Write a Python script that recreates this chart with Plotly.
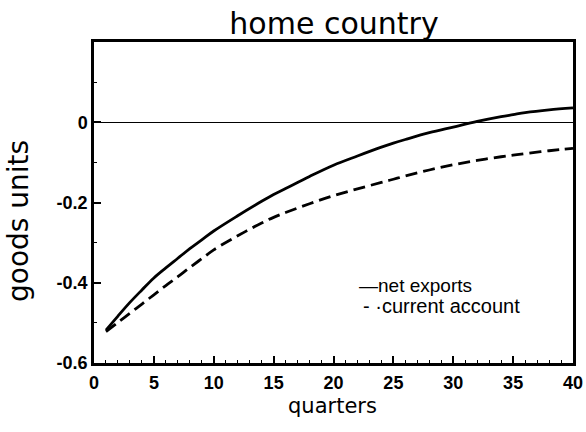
import plotly.graph_objects as go

# Data
quarters = [1, 2, 3, 4, 5, 6, 7, 8, 9, 10, 12, 14, 15, 16, 18, 20, 22, 24, 25, 26, 28, 30, 32, 34, 35, 36, 38, 40]
net_exports = [-0.518, -0.483, -0.449, -0.418, -0.388, -0.363, -0.339, -0.315, -0.293, -0.271,
               -0.233, -0.197, -0.180, -0.165, -0.135, -0.107, -0.084, -0.062, -0.052, -0.043,
               -0.026, -0.012, 0.002, 0.014, 0.019, 0.024, 0.031, 0.036]
current_account = [-0.522, -0.499, -0.476, -0.453, -0.430, -0.407, -0.385, -0.362, -0.340, -0.318,
                   -0.283, -0.251, -0.237, -0.225, -0.203, -0.183, -0.166, -0.150, -0.142, -0.134,
                   -0.119, -0.106, -0.095, -0.086, -0.082, -0.078, -0.071, -0.065]
x_ticks = [0, 5, 10, 15, 20, 25, 30, 35, 40]
y_ticks = [-0.6, -0.4, -0.2, 0]
y_tick_labels = ["-0.6", "-0.4", "-0.2", "0"]

TF = "Liberation Sans, Arial, sans-serif"

L, R, T, B = 94, 13, 42, 69
PW, PH = 586 - L - R, 432 - T - B


def px(xp):
    return (xp - L) / PW


def py(yp):
    return (432 - B - yp) / PH


fig = go.Figure()
fig.add_trace(go.Scatter(x=quarters, y=net_exports, mode="lines", name="net exports",
                         line=dict(color="black", width=2.8, shape="spline")))
fig.add_trace(go.Scatter(x=quarters, y=current_account, mode="lines", name="current account",
                         line=dict(color="black", width=2.8, dash="12px,6px", shape="spline")))

fig.update_layout(
    width=586, height=432,
    margin=dict(l=L, r=R, t=T, b=B, autoexpand=False),
    paper_bgcolor="white", plot_bgcolor="white",
    showlegend=False,
    title=dict(text="home country", x=0.57, xanchor="center", y=0.945, yanchor="middle",
               font=dict(family="DejaVu Sans, sans-serif", size=30, color="black")),
    xaxis=dict(range=[0, 40], tickvals=x_ticks, ticktext=[str(v) for v in x_ticks],
               ticks="inside", ticklen=7, tickwidth=1.5, tickcolor="black",
               minor=dict(dtick=1, ticks="inside", ticklen=3, tickwidth=1, tickcolor="black"),
               showline=True, linewidth=2.5, linecolor="black", mirror=True,
               showgrid=False, zeroline=False, ticklabelstandoff=2, automargin=False,
               ticklabeloverflow="allow",
               tickfont=dict(family=TF, size=18, color="black", weight="bold")),
    yaxis=dict(range=[-0.6, 0.2], tickvals=y_ticks, ticktext=y_tick_labels,
               ticks="inside", ticklen=7, tickwidth=1.5, tickcolor="black",
               minor=dict(dtick=0.1, ticks="inside", ticklen=3, tickwidth=1, tickcolor="black"),
               showline=True, linewidth=2.5, linecolor="black", mirror=True,
               showgrid=False, zeroline=True, zerolinecolor="black", zerolinewidth=1,
               ticklabelstandoff=0, automargin=False, ticklabeloverflow="allow",
               tickfont=dict(family=TF, size=18, color="black", weight="bold")),
    annotations=[
        dict(text="goods units", xref="paper", yref="paper", x=px(19), y=py(221),
             textangle=-90, showarrow=False, xanchor="center", yanchor="middle",
             font=dict(family="DejaVu Sans, sans-serif", size=28, color="black")),
        dict(text="quarters", xref="paper", yref="paper", x=px(332), y=py(406),
             showarrow=False, xanchor="center", yanchor="middle",
             font=dict(family="DejaVu Sans, sans-serif", size=21, color="black")),
        dict(text="\u2014net exports", xref="paper", yref="paper", x=px(357), y=py(285),
             showarrow=False, xanchor="left", yanchor="middle",
             font=dict(family=TF, size=19, color="black")),
        dict(text="- \u00b7current account", xref="paper", yref="paper", x=px(361), y=py(306),
             showarrow=False, xanchor="left", yanchor="middle",
             font=dict(family=TF, size=20, color="black")),
    ],
)

fig.write_html("out.html", config={"displayModeBar": False},
               post_script="document.body.style.margin='0px';")
